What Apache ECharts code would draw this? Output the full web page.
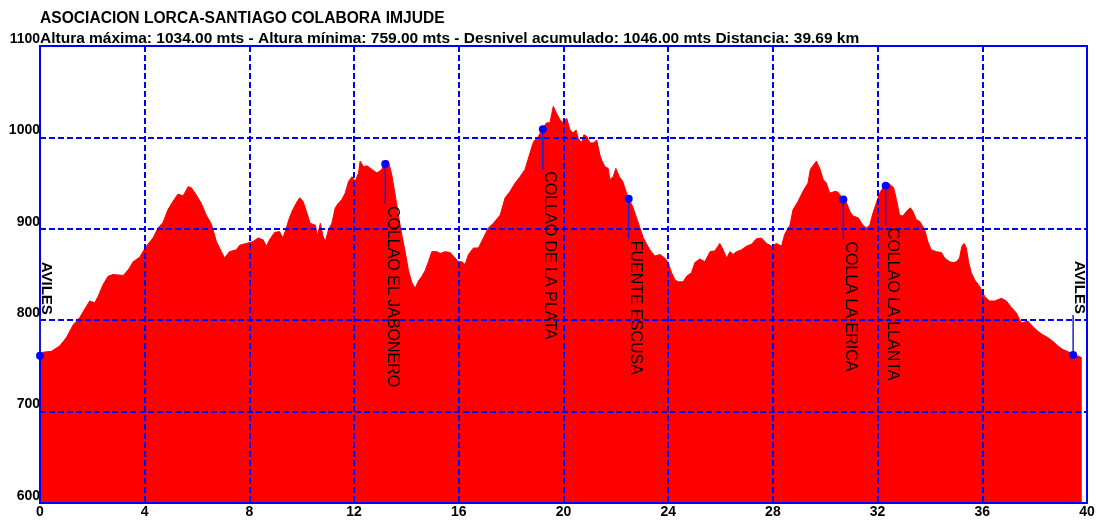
<!DOCTYPE html>
<html><head><meta charset="utf-8">
<script src="https://cdn.jsdelivr.net/npm/echarts@6/dist/echarts.min.js"></script>
<style>html,body{margin:0;padding:0;background:#fff}#c{width:1098px;height:520px}</style>
</head><body><div id="c"></div>
<script>
var titleText = 'ASOCIACION LORCA-SANTIAGO COLABORA IMJUDE';
var subtitleText = 'Altura máxima: 1034.00 mts - Altura mínima: 759.00 mts - Desnivel acumulado: 1046.00 mts Distancia: 39.69 km';

var xMin = 0, xMax = 40, xStep = 4;
var yMin = 600, yMax = 1100, yStep = 100;

var distanceKm = [
 0.00,0.12,0.44,0.76,1.01,1.27,1.52,1.77,1.90,2.09,
 2.22,2.41,2.60,2.79,3.18,3.37,3.56,3.81,4.06,4.32,
 4.51,4.70,4.89,5.08,5.27,5.47,5.66,5.78,5.97,6.16,
 6.35,6.55,6.74,6.93,7.05,7.24,7.50,7.63,7.88,8.14,
 8.33,8.52,8.65,8.77,8.96,9.15,9.28,9.41,9.53,9.66,
 9.79,9.92,10.05,10.20,10.32,10.52,10.60,10.71,10.81,10.90,
 11.02,11.15,11.28,11.40,11.53,11.66,11.79,11.92,12.04,12.17,
 12.23,12.36,12.49,12.68,12.87,13.06,13.19,13.31,13.44,13.57,
 13.69,13.82,13.95,14.08,14.21,14.33,14.46,14.59,14.71,14.84,
 14.97,15.16,15.29,15.48,15.67,15.86,15.98,16.11,16.24,16.37,
 16.56,16.75,16.94,17.13,17.32,17.58,17.77,17.96,18.15,18.34,
 18.53,18.72,18.85,19.04,19.21,19.36,19.48,19.61,19.74,19.87,
 19.99,20.12,20.25,20.37,20.48,20.56,20.69,20.78,20.89,21.01,
 21.14,21.27,21.39,21.46,21.58,21.71,21.77,21.90,22.00,22.13,
 22.26,22.41,22.50,22.66,22.79,22.92,23.05,23.18,23.30,23.49,
 23.68,23.87,24.00,24.13,24.26,24.38,24.57,24.70,24.89,25.02,
 25.21,25.40,25.60,25.79,25.97,26.10,26.23,26.36,26.48,26.61,
 26.80,26.99,27.18,27.37,27.56,27.76,27.95,28.14,28.33,28.45,
 28.65,28.77,28.96,29.15,29.34,29.43,29.53,29.66,29.79,29.92,
 30.04,30.17,30.38,30.49,30.66,30.82,30.94,31.06,31.26,31.44,
 31.57,31.70,31.82,31.95,32.08,32.27,32.40,32.53,32.61,32.72,
 32.84,32.97,33.10,33.25,33.35,33.48,33.61,33.80,33.92,34.05,
 34.24,34.44,34.56,34.75,34.88,35.01,35.13,35.22,35.30,35.39,
 35.48,35.58,35.71,35.90,36.09,36.28,36.47,36.73,36.92,37.11,
 37.30,37.49,37.74,37.93,38.12,38.31,38.50,38.69,38.88,39.07,
 39.24,39.46,39.65,39.80
];

var elevationM = [
 761,765,766,772,781,795,803,815,821,819,
 826,839,848,850,849,855,864,869,881,890,
 901,907,921,930,938,936,946,945,937,928,
 915,905,886,875,868,875,877,882,884,886,
 890,888,881,888,896,897,890,901,912,921,
 928,934,930,917,906,904,892,906,892,886,
 899,906,923,928,932,939,952,957,952,961,
 974,968,969,965,961,965,975,974,959,937,
 915,894,875,854,841,835,843,848,854,864,
 875,875,873,875,874,868,864,864,861,872,
 879,879,890,901,906,915,934,941,950,957,
 965,983,995,1001,1010,1016,1016,1034,1026,1019,
 1016,1021,1008,1005,1008,999,994,1003,1001,994,
 994,997,981,975,968,966,954,957,966,957,
 952,939,933,923,912,901,890,883,877,870,
 872,868,863,852,844,842,842,848,852,863,
 867,864,875,876,884,877,868,875,872,875,
 877,881,883,889,890,884,881,884,881,894,
 904,921,930,941,950,965,969,974,966,954,
 950,939,941,940,933,928,919,914,912,904,
 901,904,917,928,939,948,950,947,945,932,
 915,914,919,923,919,910,908,899,886,877,
 875,874,868,864,863,864,868,881,884,879,
 863,852,844,837,826,821,821,824,821,814,
 808,797,799,793,788,784,781,777,772,768,
 766,763,761,759
];

var waypointNames = ['AVILES','COLLAO EL JABONERO','COLLAO DE LA PLATA','FUENTE ESCUSA','COLLA LA ERICA','COLLAO LA LLANTA','AVILES'];
var waypointKm    = [0, 13.19, 19.21, 22.49, 30.69, 32.31, 39.47];
var waypointElev  = [761, 971, 1009, 933, 932, 947, 762];

var FONT = '"Liberation Sans", Arial, sans-serif';
var profileData = distanceKm.map(function (d, i) { return [d, elevationM[i]]; });
var waypointData = waypointKm.map(function (d, i) { return [d, waypointElev[i], i]; });
var endpointIdx = [0, waypointNames.length - 1];

var labelCommon = {
  color: '#000', fontWeight: 'bold', fontSize: 14, fontFamily: FONT,
  textShadowColor: 'rgba(0,215,215,0.8)', textShadowOffsetX: 1, textShadowOffsetY: 0, textShadowBlur: 0,
  formatter: function (v) { return String(v); }
};

var chart = echarts.init(document.getElementById('c'));
chart.setOption({
  animation: false,
  backgroundColor: '#fff',
  graphic: [
    { type: 'text', left: 40, top: 11, z: 10,
      style: { text: titleText, font: 'bold 15.6px ' + FONT, fill: '#000',
        textShadowColor: 'rgba(0,215,215,0.8)', textShadowOffsetX: 1, textShadowBlur: 0 } },
    { type: 'text', left: 40, top: 31, z: 10,
      style: { text: subtitleText, font: 'bold 15.5px ' + FONT, fill: '#000',
        textShadowColor: 'rgba(0,215,215,0.8)', textShadowOffsetX: 1, textShadowBlur: 0 } }
  ],
  grid: { left: 40, right: 11, top: 46, bottom: 17, show: true, borderColor: '#0000ff', borderWidth: 2, backgroundColor: 'transparent', z: 4 },
  xAxis: {
    type: 'value', min: xMin, max: xMax, interval: xStep, z: 3,
    axisLine: { show: false }, axisTick: { show: false },
    splitLine: { show: true, lineStyle: { color: '#0000ff', width: 2, type: [6, 3] } },
    axisLabel: Object.assign({ margin: 2 }, labelCommon)
  },
  yAxis: {
    type: 'value', min: yMin, max: yMax, interval: yStep, z: 3,
    axisLine: { show: false }, axisTick: { show: false },
    splitLine: { show: true, lineStyle: { color: '#0000ff', width: 2, type: [6, 3] } },
    axisLabel: Object.assign({ margin: 0, align: 'right', verticalAlign: 'bottom' }, labelCommon)
  },
  series: [
    {
      type: 'line', data: profileData, symbol: 'none', z: 2,
      lineStyle: { color: '#ff0000', width: 1 },
      areaStyle: { color: '#ff0000', opacity: 1 }
    },
    {
      type: 'custom', data: waypointData, z: 6,
      renderItem: function (params, api) {
        var p = api.coord([api.value(0), api.value(1)]);
        var idx = api.value(2);
        var name = waypointNames[idx];
        var up = endpointIdx.indexOf(idx) >= 0;
        var len = 40;
        var y2 = up ? p[1] - len : p[1] + len;
        var txtStyle = up
          ? { text: name, font: 'bold 15px ' + FONT, fill: '#000', align: 'right', verticalAlign: 'bottom',
              textShadowColor: 'rgba(0,215,215,0.8)', textShadowOffsetX: 1, textShadowBlur: 0 }
          : { text: name, font: '16px ' + FONT, fill: '#000', align: 'left', verticalAlign: 'bottom' };
        return {
          type: 'group',
          children: [
            { type: 'line', shape: { x1: p[0], y1: p[1], x2: p[0], y2: y2 }, style: { stroke: '#2020d0', lineWidth: 1.5 } },
            { type: 'circle', shape: { cx: p[0], cy: p[1], r: 4 }, style: { fill: '#0000ff' } },
            { type: 'text', x: p[0] - 1, y: up ? y2 - 1 : y2 + 2, rotation: -Math.PI / 2, style: txtStyle }
          ]
        };
      }
    }
  ]
});
</script>
</body></html>
